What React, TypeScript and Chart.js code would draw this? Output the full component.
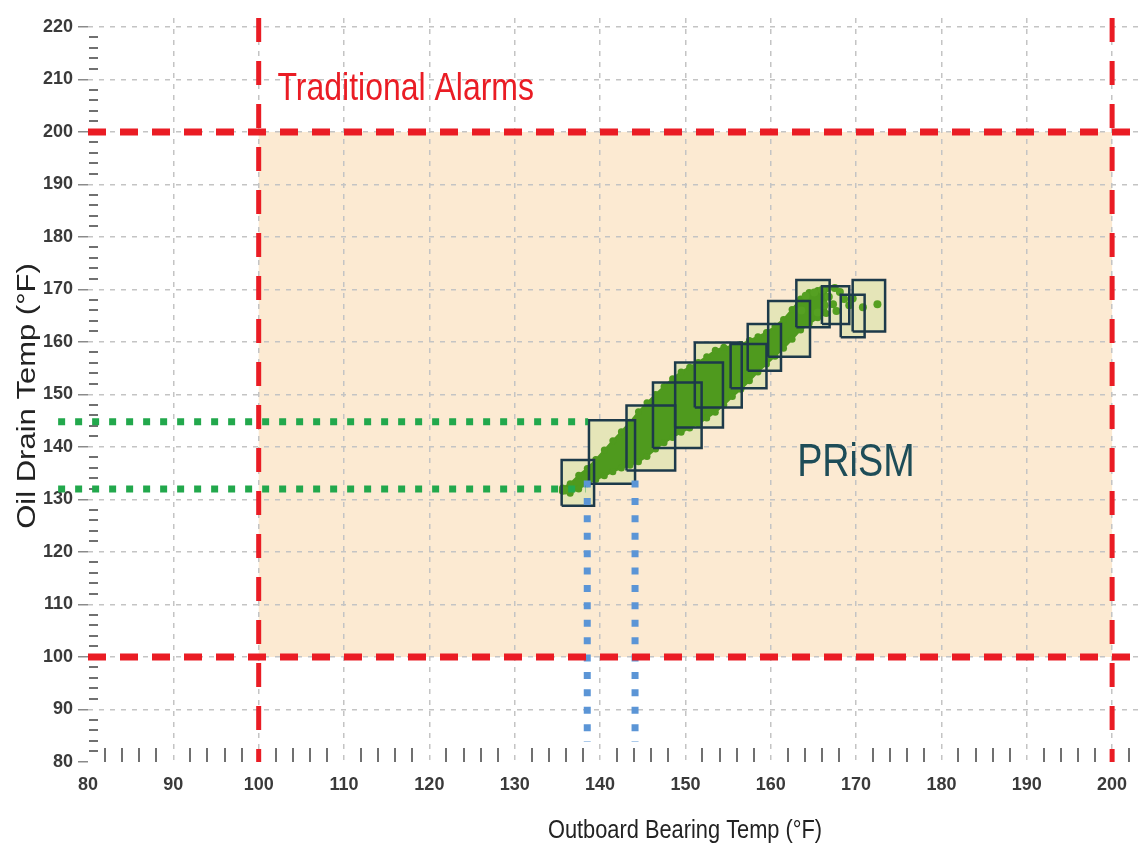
import React, { useEffect, useRef } from "react";
import { Chart, registerables } from "chart.js";

Chart.register(...registerables);

// ---- axes ----
const xRange = [80, 203.15];
const yRange = [80, 221.7];
const xTickValues = [80, 90, 100, 110, 120, 130, 140, 150, 160, 170, 180, 190, 200];
const yTickValues = [80, 90, 100, 110, 120, 130, 140, 150, 160, 170, 180, 190, 200, 210, 220];

// ---- traditional alarm limits ----
const alarmLimitsX = [100, 200];
const alarmLimitsY = [100, 200];

// ---- PRiSM boxes (outboard bearing temp range x oil drain temp range) ----
const boxX0 = [135.5, 138.7, 143.1, 146.2, 148.8, 151.1, 155.3, 157.3, 159.7, 163.0, 166.0, 169.6, 168.2];
const boxX1 = [139.3, 144.1, 148.8, 151.9, 154.4, 156.6, 159.5, 161.2, 164.6, 166.9, 169.2, 173.4, 171.0];
const boxY0 = [128.8, 133.0, 135.5, 139.8, 143.7, 147.5, 151.2, 154.5, 157.2, 162.8, 163.4, 162.0, 160.9];
const boxY1 = [137.5, 145.1, 147.9, 152.3, 156.1, 159.9, 159.6, 163.4, 167.8, 171.8, 170.6, 171.8, 169.0];

// ---- operating data band (lower and upper envelope of the dense scatter) ----
const bandX = [135.6, 136.5, 137.5, 138.5, 139.5, 140.5, 141.5, 142.5, 143.5, 144.5, 145.5, 146.5, 147.5, 148.5, 149.5, 150.5, 151.5, 152.5, 153.5, 154.5, 155.5, 156.5, 157.5, 158.5, 159.5, 160.5, 161.5, 162.5, 163.5, 164.5, 165.5, 166.5];
const bandLowerY = [131.6, 131.2, 132.0, 133.0, 133.8, 134.5, 135.3, 136.0, 136.5, 137.2, 138.2, 139.6, 140.8, 141.8, 142.8, 143.6, 144.4, 145.5, 146.6, 148.0, 149.6, 151.0, 152.6, 154.3, 155.8, 157.3, 158.8, 160.5, 162.3, 163.5, 164.6, 165.4];
const bandUpperY = [132.2, 133.0, 134.6, 135.9, 137.6, 139.4, 141.2, 142.9, 144.7, 146.7, 148.4, 150.0, 151.5, 153.0, 154.3, 155.2, 156.1, 157.2, 158.4, 159.0, 159.2, 159.5, 160.3, 161.0, 161.8, 163.0, 164.3, 166.2, 168.2, 169.4, 169.8, 170.1];

// ---- scattered readings at the hot end ----
const scatterX = [164.1, 165.1, 166.0, 167.5, 166.8, 167.3, 167.7, 168.6, 169.2, 170.8, 172.5, 165.5, 168.1, 169.6, 163.6, 166.3, 135.9];
const scatterY = [168.8, 169.4, 169.9, 170.3, 168.6, 167.2, 165.9, 168.2, 167.0, 166.6, 167.2, 165.6, 169.5, 168.3, 166.0, 167.0, 131.7];

// ---- PRiSM projection guides ----
const guideOilLevels = [144.8, 132.0];
const guideOilStart = 76.5;
const guideOilEnds = [138.6, 138.3];
const guideBearingLevels = [138.5, 144.1];
const guideBearingTop = [133.6, 133.6];
const guideBearingBottom = 83.8;

const RED = "#ea1c24";
const GREEN_BAND = "#4f9a1e";
const GREEN_DOT = "#22a84c";
const BLUE_DOT = "#5b95d6";
const NAVY = "#1d3a4a";
const PEACH = "#fcead2";
const BOX_FILL = "#e5e5b8";
const GRID = "#c4c4c4";
const SANS = '"Liberation Sans", Arial, sans-serif';

function drawText(ctx: CanvasRenderingContext2D, text: string, x: number, y: number, size: number, color: string, sx: number, align: CanvasTextAlign, rotate = false) {
  ctx.save();
  ctx.translate(x, y);
  if (rotate) {
    ctx.rotate(-Math.PI / 2);
    ctx.scale(1, sx);
  } else {
    ctx.scale(sx, 1);
  }
  ctx.font = `${size}px ${SANS}`;
  ctx.fillStyle = color;
  ctx.textAlign = align;
  ctx.textBaseline = "middle";
  ctx.fillText(text, 0, 0);
  ctx.restore();
}

const zonePlugin = {
  id: "alarmZone",
  beforeDraw(chart: any) {
    const { ctx, scales } = chart;
    const x0 = scales.x.getPixelForValue(alarmLimitsX[0]);
    const x1 = scales.x.getPixelForValue(alarmLimitsX[1]);
    const y0 = scales.y.getPixelForValue(alarmLimitsY[1]);
    const y1 = scales.y.getPixelForValue(alarmLimitsY[0]);
    ctx.save();
    ctx.fillStyle = PEACH;
    ctx.fillRect(x0, y0, x1 - x0, y1 - y0);
    ctx.restore();
  },
};

const minorTickPlugin = {
  id: "minorTicks",
  beforeDatasetsDraw(chart: any) {
    const { ctx, scales, chartArea } = chart;
    ctx.save();
    ctx.strokeStyle = "#707070";
    ctx.lineWidth = 2;
    ctx.beginPath();
    for (let v = xRange[0] + 2; v <= xRange[1]; v += 2) {
      if (v % 10 === 0) continue;
      const px = Math.round(scales.x.getPixelForValue(v));
      ctx.moveTo(px, chartArea.bottom);
      ctx.lineTo(px, chartArea.bottom - 14);
    }
    for (let v = yRange[0] + 2; v <= yRange[1]; v += 2) {
      if (v % 10 === 0) continue;
      const py = Math.round(scales.y.getPixelForValue(v));
      ctx.moveTo(chartArea.left + 1, py);
      ctx.lineTo(chartArea.left + 10, py);
    }
    ctx.stroke();
    ctx.restore();
  },
};

const textPlugin = {
  id: "texts",
  afterDatasetsDraw(chart: any) {
    const { ctx, scales } = chart;
    drawText(ctx, "Traditional Alarms", scales.x.getPixelForValue(102.2), scales.y.getPixelForValue(208.1), 39, RED, 0.82, "left");
    drawText(ctx, "PRiSM", scales.x.getPixelForValue(163.1), scales.y.getPixelForValue(136.8), 46, "#1e4d58", 0.82, "left");
  },
  afterDraw(chart: any) {
    const { ctx } = chart;
    drawText(ctx, "Outboard Bearing Temp (°F)", 685, 831, 26.6, "#222222", 0.82, "center");
    drawText(ctx, "Oil Drain Temp (°F)", 28, 396, 31, "#222222", 0.82, "center", true);
  },
};

export default function App() {
  const canvasRef = useRef<HTMLCanvasElement | null>(null);

  useEffect(() => {
    document.body.style.margin = "0";
    const canvas = canvasRef.current;
    if (!canvas) return;

    const datasets: any[] = [];

    // red traditional alarm lines
    alarmLimitsY.forEach((v) => {
      datasets.push({
        data: [{ x: xRange[0], y: v }, { x: xRange[1], y: v }],
        showLine: true, borderColor: RED, borderWidth: 7, borderDash: [18, 14],
        pointRadius: 0, fill: false, order: 0,
      });
    });
    alarmLimitsX.forEach((v) => {
      datasets.push({
        data: [{ x: v, y: yRange[1] }, { x: v, y: yRange[0] }],
        showLine: true, borderColor: RED, borderWidth: 5, borderDash: [24, 19],
        pointRadius: 0, fill: false, order: 0,
      });
    });

    // green guides (oil drain temp range)
    guideOilLevels.forEach((v, i) => {
      datasets.push({
        data: [{ x: guideOilStart, y: v }, { x: guideOilEnds[i], y: v }],
        showLine: true, borderColor: GREEN_DOT, borderWidth: 7, borderDash: [7, 10],
        pointRadius: 0, fill: false, clip: false, order: 0,
      });
    });
    // blue guides (bearing temp range)
    guideBearingLevels.forEach((v, i) => {
      datasets.push({
        data: [{ x: v, y: guideBearingTop[i] }, { x: v, y: guideBearingBottom }],
        showLine: true, borderColor: BLUE_DOT, borderWidth: 7, borderDash: [7, 10.4],
        pointRadius: 0, fill: false, clip: false, order: 0,
      });
    });

    // box outlines (on top) and box fills (beneath)
    boxX0.forEach((x0, i) => {
      const x1 = boxX1[i];
      const y0 = boxY0[i];
      const y1 = boxY1[i];
      const rect = [
        { x: x0, y: y0 }, { x: x1, y: y0 }, { x: x1, y: y1 }, { x: x0, y: y1 }, { x: x0, y: y0 },
      ];
      datasets.push({
        data: rect, showLine: true, borderColor: NAVY, borderWidth: 2.5,
        pointRadius: 0, fill: false, order: 1,
      });
      datasets.push({
        data: rect, showLine: true, borderColor: "rgba(0,0,0,0)", borderWidth: 0,
        backgroundColor: BOX_FILL, pointRadius: 0, fill: "shape", order: 4,
      });
    });

    // dense data band
    const bandPoly: { x: number; y: number }[] = [];
    bandX.forEach((x, i) => bandPoly.push({ x, y: bandLowerY[i] }));
    for (let i = bandX.length - 1; i >= 0; i--) bandPoly.push({ x: bandX[i], y: bandUpperY[i] });
    bandPoly.push({ x: bandX[0], y: bandLowerY[0] });
    datasets.push({
      data: bandPoly, showLine: true, borderColor: GREEN_BAND, borderWidth: 2,
      backgroundColor: GREEN_BAND, pointRadius: 3.5, pointBackgroundColor: GREEN_BAND,
      pointBorderWidth: 0, fill: "shape", order: 3,
    });

    // scattered readings
    datasets.push({
      data: scatterX.map((x, i) => ({ x, y: scatterY[i] })),
      showLine: false, pointRadius: 4, pointBackgroundColor: "#55a022", pointBorderWidth: 0,
      order: 2,
    });

    const tickFont = { family: SANS, size: 18, weight: "bold" };

    const chart = new Chart(canvas, {
      type: "scatter",
      data: { datasets },
      options: {
        responsive: false,
        animation: false,
        devicePixelRatio: 1,
        events: [],
        layout: { padding: { top: 18, left: 0, right: 0, bottom: 0 } },
        plugins: {
          legend: { display: false },
          tooltip: { enabled: false },
          filler: { drawTime: "beforeDatasetsDraw" },
        } as any,
        scales: {
          x: {
            type: "linear",
            min: xRange[0],
            max: xRange[1],
            afterBuildTicks: (s: any) => { s.ticks = xTickValues.map((value) => ({ value })); },
            afterFit: (s: any) => { s.height = 85; },
            grid: {
              color: (c: any) => (c.tick && c.tick.value === xRange[0] ? "rgba(0,0,0,0)" : GRID),
              lineWidth: 1.5,
              drawTicks: false,
            },
            border: { display: false, dash: [5, 6] },
            ticks: {
              padding: 12,
              color: "#3a3a3a",
              font: tickFont,
              callback: (v: any) => String(v),
              maxRotation: 0,
              autoSkip: false,
            },
          },
          y: {
            type: "linear",
            min: yRange[0],
            max: yRange[1],
            afterBuildTicks: (s: any) => { s.ticks = yTickValues.map((value) => ({ value })); },
            afterFit: (s: any) => { s.width = 88; },
            grid: {
              color: (c: any) => (c.tick && c.tick.value === yRange[0] ? "rgba(0,0,0,0)" : GRID),
              lineWidth: 1.5,
              drawTicks: true,
              tickLength: 10,
              tickColor: "#8a8a8a",
              tickWidth: 1.5,
            },
            border: { display: false, dash: [5, 6] },
            ticks: {
              padding: 5,
              color: "#3a3a3a",
              font: tickFont,
              callback: (v: any) => String(v),
              autoSkip: false,
            },
          },
        },
      } as any,
      plugins: [zonePlugin, minorTickPlugin, textPlugin],
    });

    return () => chart.destroy();
  }, []);

  return <canvas ref={canvasRef} width={1143} height={847} style={{ display: "block" }} />;
}
